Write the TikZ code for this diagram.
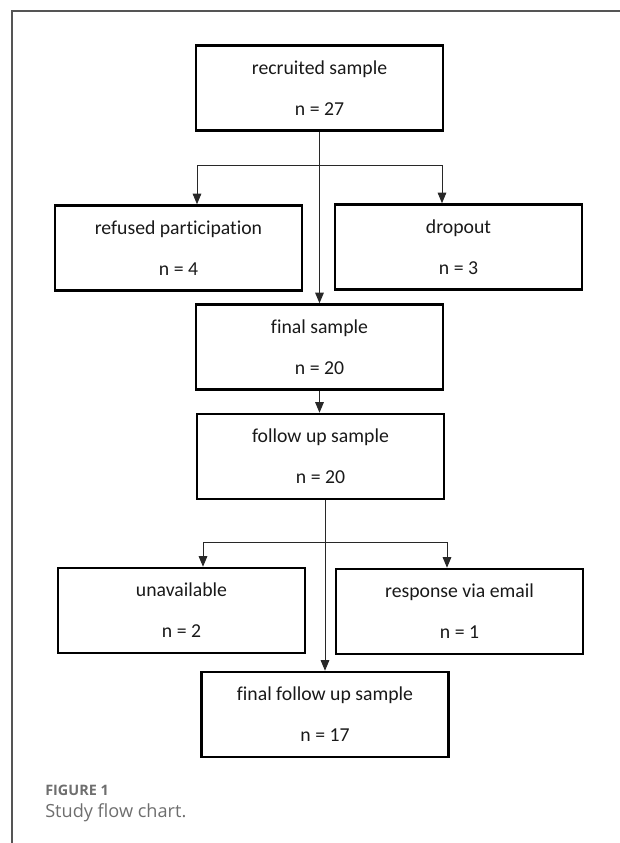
\documentclass[tikz,border=0pt]{standalone}
\usepackage{fontspec}
\usepackage{tikz}
\usetikzlibrary{arrows.meta}
\newfontfamily\boxfont[Ligatures=NoCommon]{Carlito}
\newfontfamily\capfont{Open Sans}

\definecolor{framegray}{RGB}{85,85,85}
\definecolor{capgray}{RGB}{110,110,110}
\definecolor{flowgray}{RGB}{40,40,40}

\tikzset{
  samplebox/.style={draw=black, line width=1.9pt, minimum width=185.25pt, minimum height=63.75pt,
    inner sep=0pt, align=center, font=\boxfont\fontsize{14.8}{30.75}\selectfont, text=black!90},
  flow/.style={draw=flowgray, line width=0.75pt},
  flowarrow/.style={flow, -{Triangle[width=6.5pt,length=8pt]}},
}

\begin{document}
\begin{tikzpicture}[x=0.75pt,y=0.75pt,yscale=-1,xscale=1]
\useasboundingbox (0,0) rectangle (620,843);

%Frame
\draw [color=framegray, line width=0.9pt] (12,843) -- (12,11) -- (620,11) ;

% Boxes
\node [samplebox] (recruit) at (319.5,88) {recruited sample\\n = 27};
\node [samplebox] (refused) at (178.5,248) {refused participation\\n = 4};
\node [samplebox] (dropout) at (458.5,247) {dropout\\n = 3};
\node [samplebox] (final) at (319.5,347) {final sample\\n = 20};
\node [samplebox] (follow) at (320.5,456.5) {follow up sample\\n = 20};
\node [samplebox] (unavail) at (181.5,610.5) {unavailable\\n = 2};
\node [samplebox] (email) at (459.5,611.5) {response via email\\n = 1};
\node [samplebox] (finalfu) at (325,714.5) {final follow up sample\\n = 17};

% Branch points
\coordinate (brA1) at (197,165);
\coordinate (brA2) at (442,165);
\coordinate (brB1) at (203,542);
\coordinate (brB2) at (447,542);

% Connectors, first part
\draw [flowarrow] (recruit.south) -- (final.north) ;
\draw [flow] (brA1) -- (brA2) ;
\draw [flowarrow] (brA1) -- (brA1 |- refused.north) ;
\draw [flowarrow] (brA2) -- (brA2 |- dropout.north) ;
\draw [flowarrow] (final.south) -- (final.south |- follow.north) ;

% Connectors, second part
\draw [flowarrow] (finalfu.north |- follow.south) -- (finalfu.north) ;
\draw [flow] (brB1) -- (brB2) ;
\draw [flowarrow] (brB1) -- (brB1 |- unavail.north) ;
\draw [flowarrow] (brB2) -- (brB2 |- email.north) ;

% Caption
\node [anchor=west, inner sep=0pt, text=capgray, font=\capfont\bfseries\fontsize{10.8}{13}\selectfont] (figlabel) at (45,790) {FIGURE 1};
\node [anchor=west, inner sep=0pt, text=capgray, font=\capfont\fontsize{13.6}{16}\selectfont] (figcaption) at (45,813) {Study flow chart.};
\end{tikzpicture}
\end{document}
